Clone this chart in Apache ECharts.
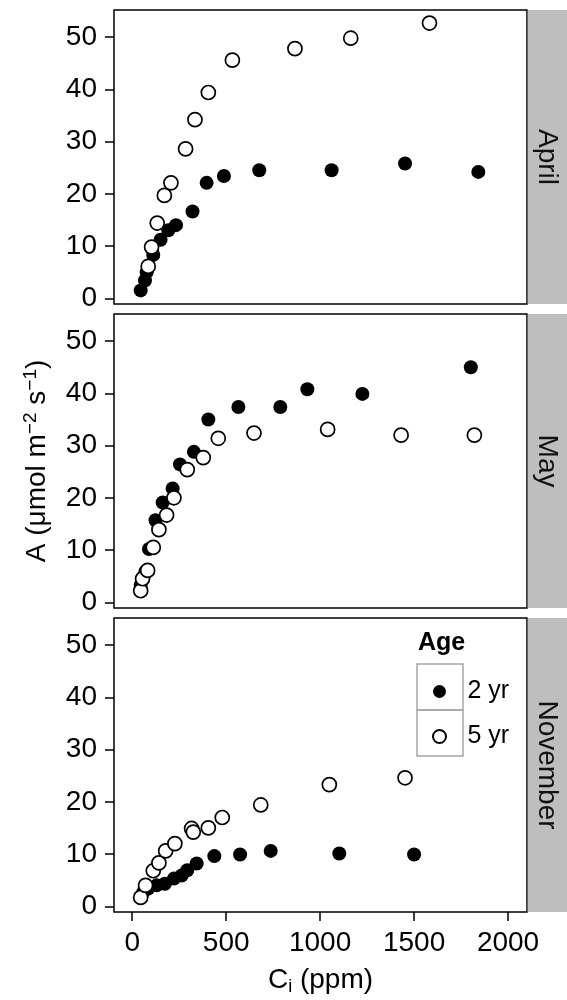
<!DOCTYPE html>
<html>
<head>
<meta charset="utf-8">
<script src="https://cdn.jsdelivr.net/npm/echarts@6/dist/echarts.min.js"></script>
<style>
html,body{margin:0;padding:0;background:#fff;}
#chart{width:567px;height:1000px;}
</style>
</head>
<body>
<div id="chart"></div>
<script>
// ---- data (Ci ppm, A µmol m-2 s-1) ----
const panels = ['April', 'May', 'November'];
const ageNames = ['2 yr', '5 yr'];
const xTicks = [0, 500, 1000, 1500, 2000];
const yTicks = [0, 10, 20, 30, 40, 50];

const april2yr = [[45,1.5],[68,3.4],[77,5.0],[112,8.3],[151,11.2],[192,13.0],[233,14.0],[321,16.6],[396,22.1],[488,23.4],[676,24.5],[1061,24.5],[1452,25.8],[1842,24.2]];
const april5yr = [[85,6.1],[103,9.8],[133,14.4],[171,19.7],[206,22.1],[284,28.6],[334,34.2],[405,39.4],[533,45.6],[866,47.8],[1163,49.8],[1582,52.7]];
const may2yr = [[45,3.3],[59,4.9],[71,5.9],[89,10.2],[124,15.7],[162,19.1],[215,21.8],[254,26.4],[328,28.8],[405,35.0],[565,37.4],[788,37.4],[932,40.8],[1225,39.9],[1802,45.0]];
const may5yr = [[45,2.2],[55,4.5],[82,6.1],[112,10.5],[142,13.9],[183,16.7],[222,20.0],[293,25.4],[378,27.7],[458,31.4],[648,32.4],[1040,33.1],[1431,32.0],[1821,32.0]];
const nov2yr = [[45,1.8],[59,2.7],[85,3.4],[130,4.0],[174,4.3],[222,5.3],[263,5.9],[293,6.9],[343,8.2],[437,9.6],[574,9.9],[737,10.6],[1102,10.1],[1500,9.9]];
const nov5yr = [[45,1.7],[71,4.0],[112,6.8],[142,8.3],[178,10.6],[227,12.0],[316,14.9],[325,14.2],[405,15.0],[479,17.0],[684,19.4],[1049,23.3],[1452,24.6]];

const data2yr = [april2yr, may2yr, nov2yr];
const data5yr = [april5yr, may5yr, nov5yr];

// ---- layout ----
const FONT = 'Liberation Sans, Arial, Helvetica, sans-serif';
const gridLeft = 114, gridRight = 40, panelH = 294, panelGap = 10, firstTop = 10;
const W = 567;
const tops = panels.map((_, i) => firstTop + i * (panelH + panelGap));

const chart = echarts.init(document.getElementById('chart'), null, {renderer: 'canvas'});

const grids = tops.map(t => ({
  left: gridLeft, right: gridRight, top: t, height: panelH,
  show: true, borderColor: '#000', borderWidth: 1.5, backgroundColor: '#fff'
}));

const xAxes = panels.map((p, i) => {
  const last = i === panels.length - 1;
  return {
    type: 'value', gridIndex: i, min: -97, max: 2101, position: 'bottom',
    axisLine: {show: false, onZero: false},
    splitLine: {show: false},
    axisTick: {show: last, customValues: xTicks, length: 9, lineStyle: {color: '#000', width: 1.5}},
    axisLabel: {show: last, customValues: xTicks, fontSize: 28, color: '#000', fontFamily: FONT, margin: 17,
      formatter: v => String(v)},
    name: last ? 'C{sub|i} (ppm)' : '',
    nameLocation: 'middle', nameGap: 52,
    nameTextStyle: {
      fontSize: 28, color: '#000', fontFamily: FONT,
      rich: {sub: {fontSize: 18, fontFamily: FONT, color: '#000', verticalAlign: 'bottom', padding: [14, 0, 0, 0]}}
    }
  };
});

const yAxes = panels.map((p, i) => ({
  type: 'value', gridIndex: i, min: -1.1, max: 55.2, position: 'left',
  axisLine: {show: false, onZero: false},
  splitLine: {show: false},
  axisTick: {show: true, customValues: yTicks, length: 9, lineStyle: {color: '#000', width: 1.5}},
  axisLabel: {customValues: yTicks, fontSize: 28, color: '#000', fontFamily: FONT, margin: 17,
    formatter: v => String(v)},
  name: i === 1 ? 'A (μmol m{sup|−2} s{sup|−1})' : '',
  nameLocation: 'middle', nameGap: 60,
  nameTextStyle: {
    fontSize: 28, color: '#000', fontFamily: FONT,
    rich: {sup: {fontSize: 19, fontFamily: FONT, color: '#000', verticalAlign: 'top', padding: [0, 0, 14, 0]}}
  }
}));

const series = [];
panels.forEach((p, i) => {
  series.push({
    name: ageNames[0], type: 'scatter', xAxisIndex: i, yAxisIndex: i,
    data: data2yr[i], symbol: 'circle', symbolSize: 14,
    itemStyle: {color: '#000', borderColor: '#000', borderWidth: 0, opacity: 1}
  });
});
panels.forEach((p, i) => {
  series.push({
    name: ageNames[1], type: 'scatter', xAxisIndex: i, yAxisIndex: i,
    data: data5yr[i], symbol: 'circle', symbolSize: 14,
    itemStyle: {color: '#fff', borderColor: '#000', borderWidth: 1.7, opacity: 1}
  });
});

const graphics = [];
tops.forEach((t, i) => {
  graphics.push({
    type: 'rect', z: 1,
    shape: {x: W - gridRight + 0.75, y: t, width: gridRight, height: panelH},
    style: {fill: '#BEBEBE'}
  });
  graphics.push({
    type: 'text', z: 2,
    x: W - gridRight / 2, y: t + panelH / 2, rotation: -Math.PI / 2,
    style: {text: panels[i], font: '28px ' + FONT, fill: '#111', align: 'center', verticalAlign: 'middle'}
  });
});
// legend key boxes and title
graphics.push({type: 'text', z: 5, x: 418, y: 643,
  style: {text: 'Age', font: 'bold 25px ' + FONT, fill: '#000', align: 'left', verticalAlign: 'middle'}});
graphics.push({type: 'rect', z: 5, shape: {x: 417, y: 664, width: 46, height: 46},
  style: {fill: 'none', stroke: '#A6A6A6', lineWidth: 1.5}});
graphics.push({type: 'rect', z: 5, shape: {x: 417, y: 710, width: 46, height: 46},
  style: {fill: 'none', stroke: '#A6A6A6', lineWidth: 1.5}});

chart.setOption({
  animation: false,
  backgroundColor: '#fff',
  grid: grids,
  xAxis: xAxes,
  yAxis: yAxes,
  series: series,
  legend: {
    data: ageNames, orient: 'vertical', left: 427, top: 674,
    itemWidth: 46, itemHeight: 13, itemGap: 20, selectedMode: false,
    textStyle: {fontSize: 25, color: '#000', fontFamily: FONT},
    z: 10
  },
  graphic: graphics
});
</script>
</body>
</html>
